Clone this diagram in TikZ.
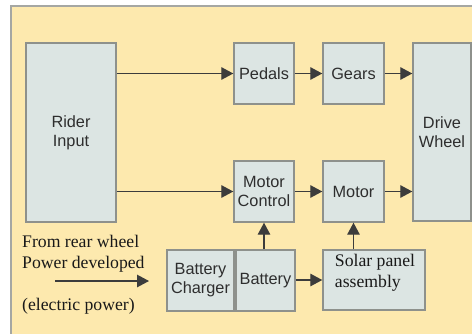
\documentclass[tikz,border=0pt]{standalone}
\usepackage{fontspec}
\setmainfont{Liberation Serif}
\setsansfont{Liberation Sans}
\usetikzlibrary{arrows.meta}
\definecolor{bgc}{HTML}{FDE9AE}
\definecolor{boxc}{HTML}{DCE5E3}
\definecolor{edgec}{HTML}{8E918C}
\definecolor{linec}{HTML}{3C3C3C}
\definecolor{txtc}{HTML}{2E2E2E}
\begin{document}
\begin{tikzpicture}[x=1pt,y=-1pt,
  blk/.style={draw=edgec,line width=1.4pt,fill=boxc,inner sep=0pt,
    font=\sffamily\fontsize{16.3}{19}\selectfont,text=txtc,align=center},
  arr/.style={draw=linec,line width=1.3pt,-{Triangle[length=12pt,width=12.5pt]}},
  stxt/.style={font=\rmfamily\fontsize{17.7}{21}\selectfont,text=black!90,align=left,inner sep=0pt}]
\useasboundingbox (0,0) rectangle (472,333);
\fill[white] (0,0) rectangle (472,333);
\draw[draw=edgec!80,line width=1.5pt,fill=bgc] (11,6) rectangle (490,350);
% blocks
\node[blk,minimum width=90pt,minimum height=179pt] (rider) at (71,132.5) {Rider\\Input};
\node[blk,minimum width=60pt,minimum height=61pt] (pedals) at (264,73.5) {Pedals};
\node[blk,minimum width=61pt,minimum height=61pt] (gears) at (353.5,73.5) {Gears};
\node[blk,minimum width=58pt,minimum height=178pt] (drive) at (442,132) {Drive\\Wheel};
\node[blk,minimum width=60pt,minimum height=61pt] (mc) at (264,191.5) {Motor\\Control};
\node[blk,minimum width=61pt,minimum height=61pt] (motor) at (353.5,191.5) {Motor};
\node[blk,minimum width=67pt,minimum height=61pt] (charger) at (200.5,280.5) {Battery\\Charger};
\node[blk,minimum width=59pt,minimum height=61pt] (battery) at (265.5,280.5) {Battery};
\node[blk,minimum width=102pt,minimum height=60pt] (solar) at (374,280) {};
\node[stxt] (solartxt) at (375,273) {Solar panel\\assembly};
% connectors
\draw[arr] (rider.east |- pedals.west) -- (pedals.west);
\draw[arr] (pedals.east) -- (gears.west);
\draw[arr] (gears.east) -- (gears.east -| drive.west);
\draw[arr] (rider.east |- mc.west) -- (mc.west);
\draw[arr] (mc.east) -- (motor.west);
\draw[arr] (motor.east) -- (motor.east -| drive.west);
\draw[arr] (battery.north -| mc.south) -- (mc.south);
\draw[arr] (solar.north -| motor.south) -- (motor.south);
\draw[arr] (battery.east |- solar.west) -- (solar.west);
% free text
\node[stxt,anchor=base west] (t1) at (22,247) {From rear wheel};
\node[stxt,anchor=base west] (t2) at (22,268) {Power developed};
\node[stxt,anchor=base west] (t3) at (22,310) {(electric power)};
\coordinate (pa) at (55,281);
\coordinate (pb) at (149,281);
\draw[arr] (pa) -- (pb);
\end{tikzpicture}
\end{document}
